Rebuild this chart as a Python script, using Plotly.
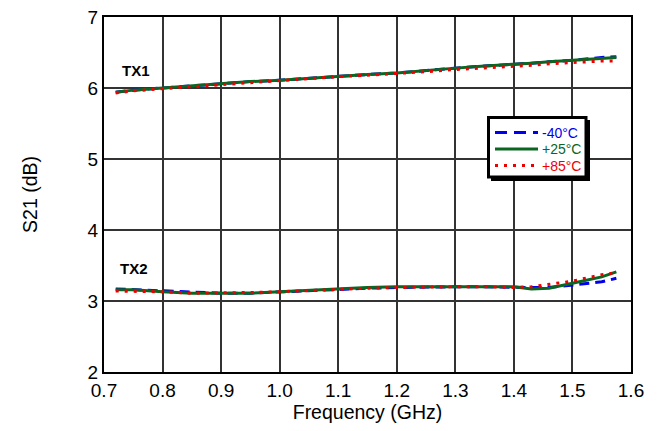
import plotly.graph_objects as go

freq = [0.72, 0.75, 0.80, 0.85, 0.90, 0.95, 1.00, 1.05, 1.10, 1.15, 1.20, 1.25,
        1.30, 1.35, 1.40, 1.43, 1.46, 1.50, 1.55, 1.575]

tx1_m40 = [5.94, 5.97, 6.00, 6.03, 6.07, 6.09, 6.11, 6.14, 6.17, 6.19, 6.21, 6.25,
           6.28, 6.31, 6.33, 6.35, 6.37, 6.39, 6.43, 6.44]
tx1_p25 = [5.94, 5.97, 6.00, 6.03, 6.07, 6.09, 6.11, 6.14, 6.17, 6.19, 6.21, 6.25,
           6.28, 6.31, 6.33, 6.35, 6.37, 6.39, 6.42, 6.43]
tx1_p85 = [5.93, 5.96, 5.99, 6.02, 6.05, 6.08, 6.10, 6.13, 6.16, 6.18, 6.20, 6.23,
           6.26, 6.28, 6.31, 6.32, 6.34, 6.36, 6.38, 6.38]

tx2_m40 = [3.17, 3.16, 3.14, 3.12, 3.11, 3.11, 3.13, 3.15, 3.17, 3.18, 3.19, 3.20,
           3.20, 3.20, 3.19, 3.19, 3.19, 3.23, 3.27, 3.32]
tx2_p25 = [3.16, 3.16, 3.13, 3.11, 3.11, 3.11, 3.13, 3.15, 3.18, 3.19, 3.20, 3.20,
           3.20, 3.20, 3.20, 3.17, 3.18, 3.25, 3.34, 3.41]
tx2_p85 = [3.14, 3.14, 3.13, 3.11, 3.11, 3.12, 3.13, 3.15, 3.17, 3.18, 3.19, 3.20,
           3.20, 3.20, 3.19, 3.20, 3.23, 3.28, 3.37, 3.40]

x_ticks = [0.7, 0.8, 0.9, 1.0, 1.1, 1.2, 1.3, 1.4, 1.5, 1.6]
x_tick_labels = ["0.7", "0.8", "0.9", "1.0", "1.1", "1.2", "1.3", "1.4", "1.5", "1.6"]
y_ticks = [2, 3, 4, 5, 6, 7]

series_names = ["-40°C", "+25°C", "+85°C"]
series_colors = ["#0000ee", "#0a6620", "#ee0000"]
series_dashes = ["10px,6px", "solid", "3px,6px"]
legend_dashes = ["12px,7px", "solid", "3px,6px"]
tx1_series = [tx1_m40, tx1_p25, tx1_p85]
tx2_series = [tx2_m40, tx2_p25, tx2_p85]

FONT = "Liberation Sans, Arial, sans-serif"

# plot area (page pixels) of the reference; the page body adds an 8px margin
PL, PR, PT, PB = 104, 631, 17, 372
BODY = 8


def px(xp):
    return (xp - PL) / (PR - PL)


def py(yp):
    return 1 - (yp - PT) / (PB - PT)


fig = go.Figure()
for name, color, dash, y1, y2 in zip(series_names, series_colors, series_dashes,
                                     tx1_series, tx2_series):
    fig.add_trace(go.Scatter(x=freq, y=y1, mode="lines", name=name, showlegend=False,
                             line=dict(color=color, width=3, dash=dash)))
    fig.add_trace(go.Scatter(x=freq, y=y2, mode="lines", name=name, showlegend=False,
                             line=dict(color=color, width=3, dash=dash)))

fig.add_annotation(x=0.755, y=6.25, text="<b>TX1</b>", showarrow=False,
                   font=dict(size=15, color="black", family=FONT))
fig.add_annotation(x=0.752, y=3.46, text="<b>TX2</b>", showarrow=False,
                   font=dict(size=15, color="black", family=FONT))

# manual legend box with shadow
fig.add_shape(type="rect", xref="paper", yref="paper",
              x0=px(491), x1=px(590), y0=py(181), y1=py(120),
              fillcolor="black", line=dict(width=0), layer="above")
fig.add_shape(type="rect", xref="paper", yref="paper",
              x0=px(488.5), x1=px(586), y0=py(177), y1=py(117.5),
              fillcolor="white", line=dict(color="black", width=3), layer="above")
legend_y = [132.5, 149, 165.5]
for name, color, dash, ly in zip(series_names, series_colors, legend_dashes, legend_y):
    fig.add_shape(type="line", xref="paper", yref="paper",
                  x0=px(495), x1=px(538), y0=py(ly), y1=py(ly),
                  line=dict(color=color, width=3, dash=dash), layer="above")
    fig.add_annotation(xref="paper", yref="paper", x=px(540), y=py(ly),
                       xanchor="left", yanchor="middle", text=name, showarrow=False,
                       font=dict(size=14, color=color, family=FONT))

fig.update_layout(
    width=664 - BODY * 2, height=431 - BODY,
    margin=dict(l=PL - BODY, r=(664 - BODY * 2) - (PR - BODY), t=PT - BODY,
                b=(431 - BODY) - (PB - BODY)),
    paper_bgcolor="white", plot_bgcolor="white",
    font=dict(family=FONT, color="black", size=19),
    showlegend=False,
    xaxis=dict(range=[0.7, 1.6], tickvals=x_ticks, ticktext=x_tick_labels,
               showgrid=True, gridcolor="#333333", gridwidth=1.5,
               showline=True, linecolor="black", linewidth=2, mirror=True,
               ticks="", zeroline=False, automargin=False, ticklabeloverflow="allow",
               title=dict(text="Frequency (GHz)", font=dict(size=19.5), standoff=5),
               tickfont=dict(size=19)),
    yaxis=dict(range=[2, 7], tickvals=y_ticks,
               showgrid=True, gridcolor="#333333", gridwidth=1.5,
               showline=True, linecolor="black", linewidth=2, mirror=True,
               ticks="", zeroline=False, automargin=False, ticklabeloverflow="allow",
               title=dict(text="S21 (dB)", font=dict(size=19.5), standoff=45),
               tickfont=dict(size=19)),
)

fig.write_html("out.html")
